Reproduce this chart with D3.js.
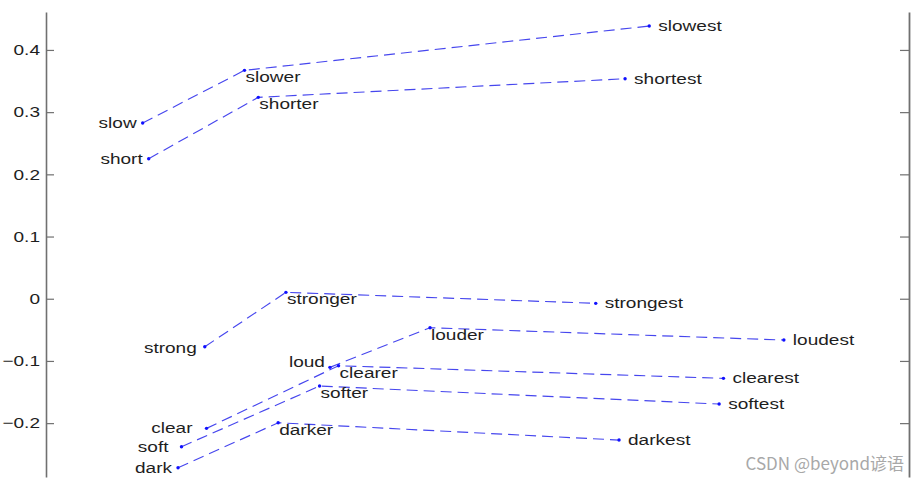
<!DOCTYPE html>
<html>
<head>
<meta charset="utf-8">
<script src="https://cdn.jsdelivr.net/npm/d3@7"></script>
<style>
  html, body { margin: 0; padding: 0; background: #fff; }
  svg { display: block; }
</style>
</head>
<body>
<svg id="chart" width="920" height="483"></svg>
<script>
// ---- data ----
const baseWords = ["slow", "short", "strong", "loud", "clear", "soft", "dark"];
const compWords = ["slower", "shorter", "stronger", "louder", "clearer", "softer", "darker"];
const supWords  = ["slowest", "shortest", "strongest", "loudest", "clearest", "softest", "darkest"];

const baseX = [0.112, 0.119, 0.184, 0.329, 0.186, 0.157, 0.153];
const baseY = [0.2825, 0.2251, -0.0772, -0.1103, -0.2084, -0.2379, -0.2717];
const compX = [0.230, 0.246, 0.278, 0.445, 0.339, 0.317, 0.269];
const compY = [0.3672, 0.3238, 0.0103, -0.0466, -0.1077, -0.1404, -0.1994];
const supX  = [0.699, 0.671, 0.637, 0.855, 0.785, 0.780, 0.664];
const supY  = [0.4384, 0.3537, -0.0074, -0.0664, -0.128, -0.1693, -0.2272];

const yTicks = [0.4, 0.3, 0.2, 0.1, 0, -0.1, -0.2];
const yTickLabels = ["0.4", "0.3", "0.2", "0.1", "0", "\u22120.1", "\u22120.2"];

const watermark = "CSDN @beyond谚语";

// ---- layout ----
(function () {
const svg = d3.select("#chart");
const pLeft = 46, pRight = 909, pTop = 12, pBottom = 477;
const x = d3.scaleLinear().domain([0, 1]).range([pLeft, pRight]);
const y = d3.scaleLinear().domain([-0.2866, 0.461]).range([pBottom, pTop]);

const axisColor = "#707070";
const textColor = "#1e1e1e";
const lineColor = "#4646ee";
const dotColor = "#1010ff";
const font = "'Liberation Sans', Arial, Helvetica, sans-serif";
const sx = 1.27;

// left axis
const gL = svg.append("g").attr("transform", `translate(${pLeft},0)`)
  .call(d3.axisLeft(y).tickValues(yTicks)
    .tickFormat((d, i) => yTickLabels[i])
    .tickSizeInner(-8).tickSizeOuter(0).tickPadding(6));
gL.select(".domain").attr("stroke", axisColor).attr("stroke-width", 1.6);
gL.selectAll(".tick line").attr("stroke", axisColor).attr("stroke-width", 1.2);
gL.selectAll(".tick text").each(function () {
  const t = d3.select(this);
  const xx = +t.attr("x");
  t.attr("x", null).attr("transform", `translate(${xx},0) scale(${sx},1)`);
}).attr("font-family", font).attr("font-size", 15).attr("fill", textColor);

// right axis
const gR = svg.append("g").attr("transform", `translate(${pRight},0)`)
  .call(d3.axisRight(y).tickValues(yTicks).tickFormat("")
    .tickSizeInner(-9).tickSizeOuter(0));
gR.select(".domain").attr("stroke", axisColor).attr("stroke-width", 1.8);
gR.selectAll(".tick line").attr("stroke", axisColor).attr("stroke-width", 1.2);

// families
const families = baseWords.map((w, i) => [
  { word: w, x: baseX[i], y: baseY[i], kind: "base" },
  { word: compWords[i], x: compX[i], y: compY[i], kind: "comp" },
  { word: supWords[i], x: supX[i], y: supY[i], kind: "sup" }
]);

const line = d3.line().x(d => x(d.x)).y(d => y(d.y));
svg.append("g").selectAll("path").data(families).join("path")
  .attr("d", line)
  .attr("fill", "none")
  .attr("stroke", lineColor)
  .attr("stroke-width", 1.15)
  .attr("stroke-dasharray", "11,6");

const pts = families.flat();
svg.append("g").selectAll("circle").data(pts).join("circle")
  .attr("cx", d => x(d.x)).attr("cy", d => y(d.y))
  .attr("r", 1.7).attr("fill", dotColor);

// label placement rules
const baseOffset = { clear: [-14, 5], soft: [-13, 5], strong: [-8, 6], loud: [-5, 0] };
function labelPos(d) {
  if (d.kind === "base") {
    const o = baseOffset[d.word] || [-6, 5];
    return { dx: o[0], dy: o[1], anchor: "end" };
  }
  if (d.kind === "comp") return { dx: 1, dy: 12, anchor: "start" };
  return { dx: 9, dy: 5, anchor: "start" };
}

svg.append("g").selectAll("text").data(pts).join("text")
  .attr("transform", d => {
    const p = labelPos(d);
    return `translate(${x(d.x) + p.dx},${y(d.y) + p.dy}) scale(${sx},1)`;
  })
  .attr("text-anchor", d => labelPos(d).anchor)
  .attr("font-family", font)
  .attr("font-size", 15)
  .attr("fill", textColor)
  .text(d => d.word);

// watermark
svg.append("text")
  .attr("x", 904).attr("y", 470)
  .attr("text-anchor", "end")
  .attr("font-family", "'Noto Sans CJK SC', 'Noto Sans', sans-serif")
  .attr("font-size", 17)
  .attr("fill", "#a8a8a8")
  .text(watermark);
})();
</script>
</body>
</html>
